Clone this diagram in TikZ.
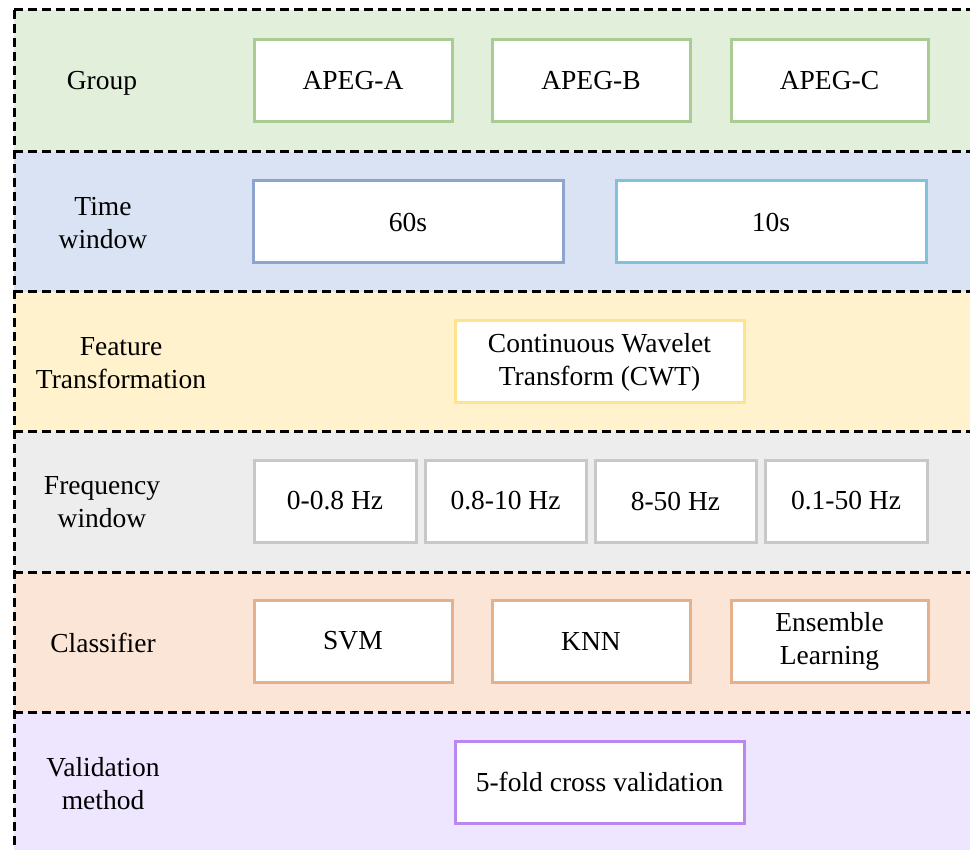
\documentclass[tikz,border=0pt]{standalone}
\usepackage{fontspec}
\setmainfont{Liberation Serif}
\begin{document}
\begin{tikzpicture}[x=1pt,y=-1pt,
  every node/.style={font=\fontsize{27.5}{33}\selectfont, align=center, inner sep=0pt},
  itembox/.style={draw=#1, fill=white, line width=3pt, minimum height=82pt},
  bandline/.style={line width=3pt, dash pattern=on 9pt off 5pt},
  txt/.style={yshift=-2pt},
]
\definecolor{bgA}{HTML}{E2EFDA}\definecolor{bdA}{HTML}{A9CC93}
\definecolor{bgB}{HTML}{DAE3F3}\definecolor{bdB}{HTML}{8EA4CC}\definecolor{bdB2}{HTML}{82C0DC}
\definecolor{bgC}{HTML}{FFF2CC}\definecolor{bdC}{HTML}{FFE38F}
\definecolor{bgD}{HTML}{EDEDED}\definecolor{bdD}{HTML}{C8C8C8}
\definecolor{bgE}{HTML}{FBE5D6}\definecolor{bdE}{HTML}{E5B08C}
\definecolor{bgF}{HTML}{EEE6FF}\definecolor{bdF}{HTML}{B987EE}
\useasboundingbox (0,0) rectangle (970,850);
\clip (0,0) rectangle (970,850);
\fill[white] (0,0) rectangle (970,850);
% bands
\fill[bgA] (14,10) rectangle (990,152);
\fill[bgB] (14,152) rectangle (990,292);
\fill[bgC] (14,292) rectangle (990,432);
\fill[bgD] (14,432) rectangle (990,572);
\fill[bgE] (14,572) rectangle (990,712);
\fill[bgF] (14,712) rectangle (990,870);
\foreach \yy in {10,152,292,432,572,712}
  \draw[bandline] (14,\yy) -- (990,\yy);
\draw[bandline] (14,10) -- (14,870);
% row labels
\node[txt] (lA) at (102,81) {Group};
\node[txt] (lB) at (103,221) {Time\\window};
\node[txt] (lC) at (121,361) {Feature\\Transformation};
\node[txt] (lD) at (102,500) {Frequency\\window};
\node[txt] (lE) at (103,641) {Classifier};
\node[txt] (lF) at (103,782) {Validation\\method};
% row 1
\node[itembox=bdA, minimum width=198pt] (a1) at (353,81) {APEG-A};
\node[itembox=bdA, minimum width=198pt] (a2) at (591,81) {APEG-B};
\node[itembox=bdA, minimum width=197pt] (a3) at (829.5,81) {APEG-C};
% row 2
\node[itembox=bdB, minimum width=310pt] (b1) at (408,222) {60s};
\node[itembox=bdB2, minimum width=310pt] (b2) at (771,222) {10s};
% row 3
\node[itembox=bdC, minimum width=289pt] (c1) at (599.5,362) {Continuous Wavelet\\Transform (CWT)};
% row 4
\node[itembox=bdD, minimum width=162pt] (d1) at (335,501) {0-0.8 Hz};
\node[itembox=bdD, minimum width=161pt] (d2) at (505.5,501) {0.8-10 Hz};
\node[itembox=bdD, minimum width=161pt] (d3) at (675.5,501) {8-50 Hz};
\node[itembox=bdD, minimum width=162pt] (d4) at (846,501) {0.1-50 Hz};
% row 5
\node[itembox=bdE, minimum width=198pt] (e1) at (353,641) {SVM};
\node[itembox=bdE, minimum width=198pt] (e2) at (591,641) {KNN};
\node[itembox=bdE, minimum width=197pt] (e3) at (829.5,641) {Ensemble\\Learning};
% row 6
\node[itembox=bdF, minimum width=289pt] (f1) at (599.5,782) {5-fold cross validation};
\end{tikzpicture}
\end{document}
